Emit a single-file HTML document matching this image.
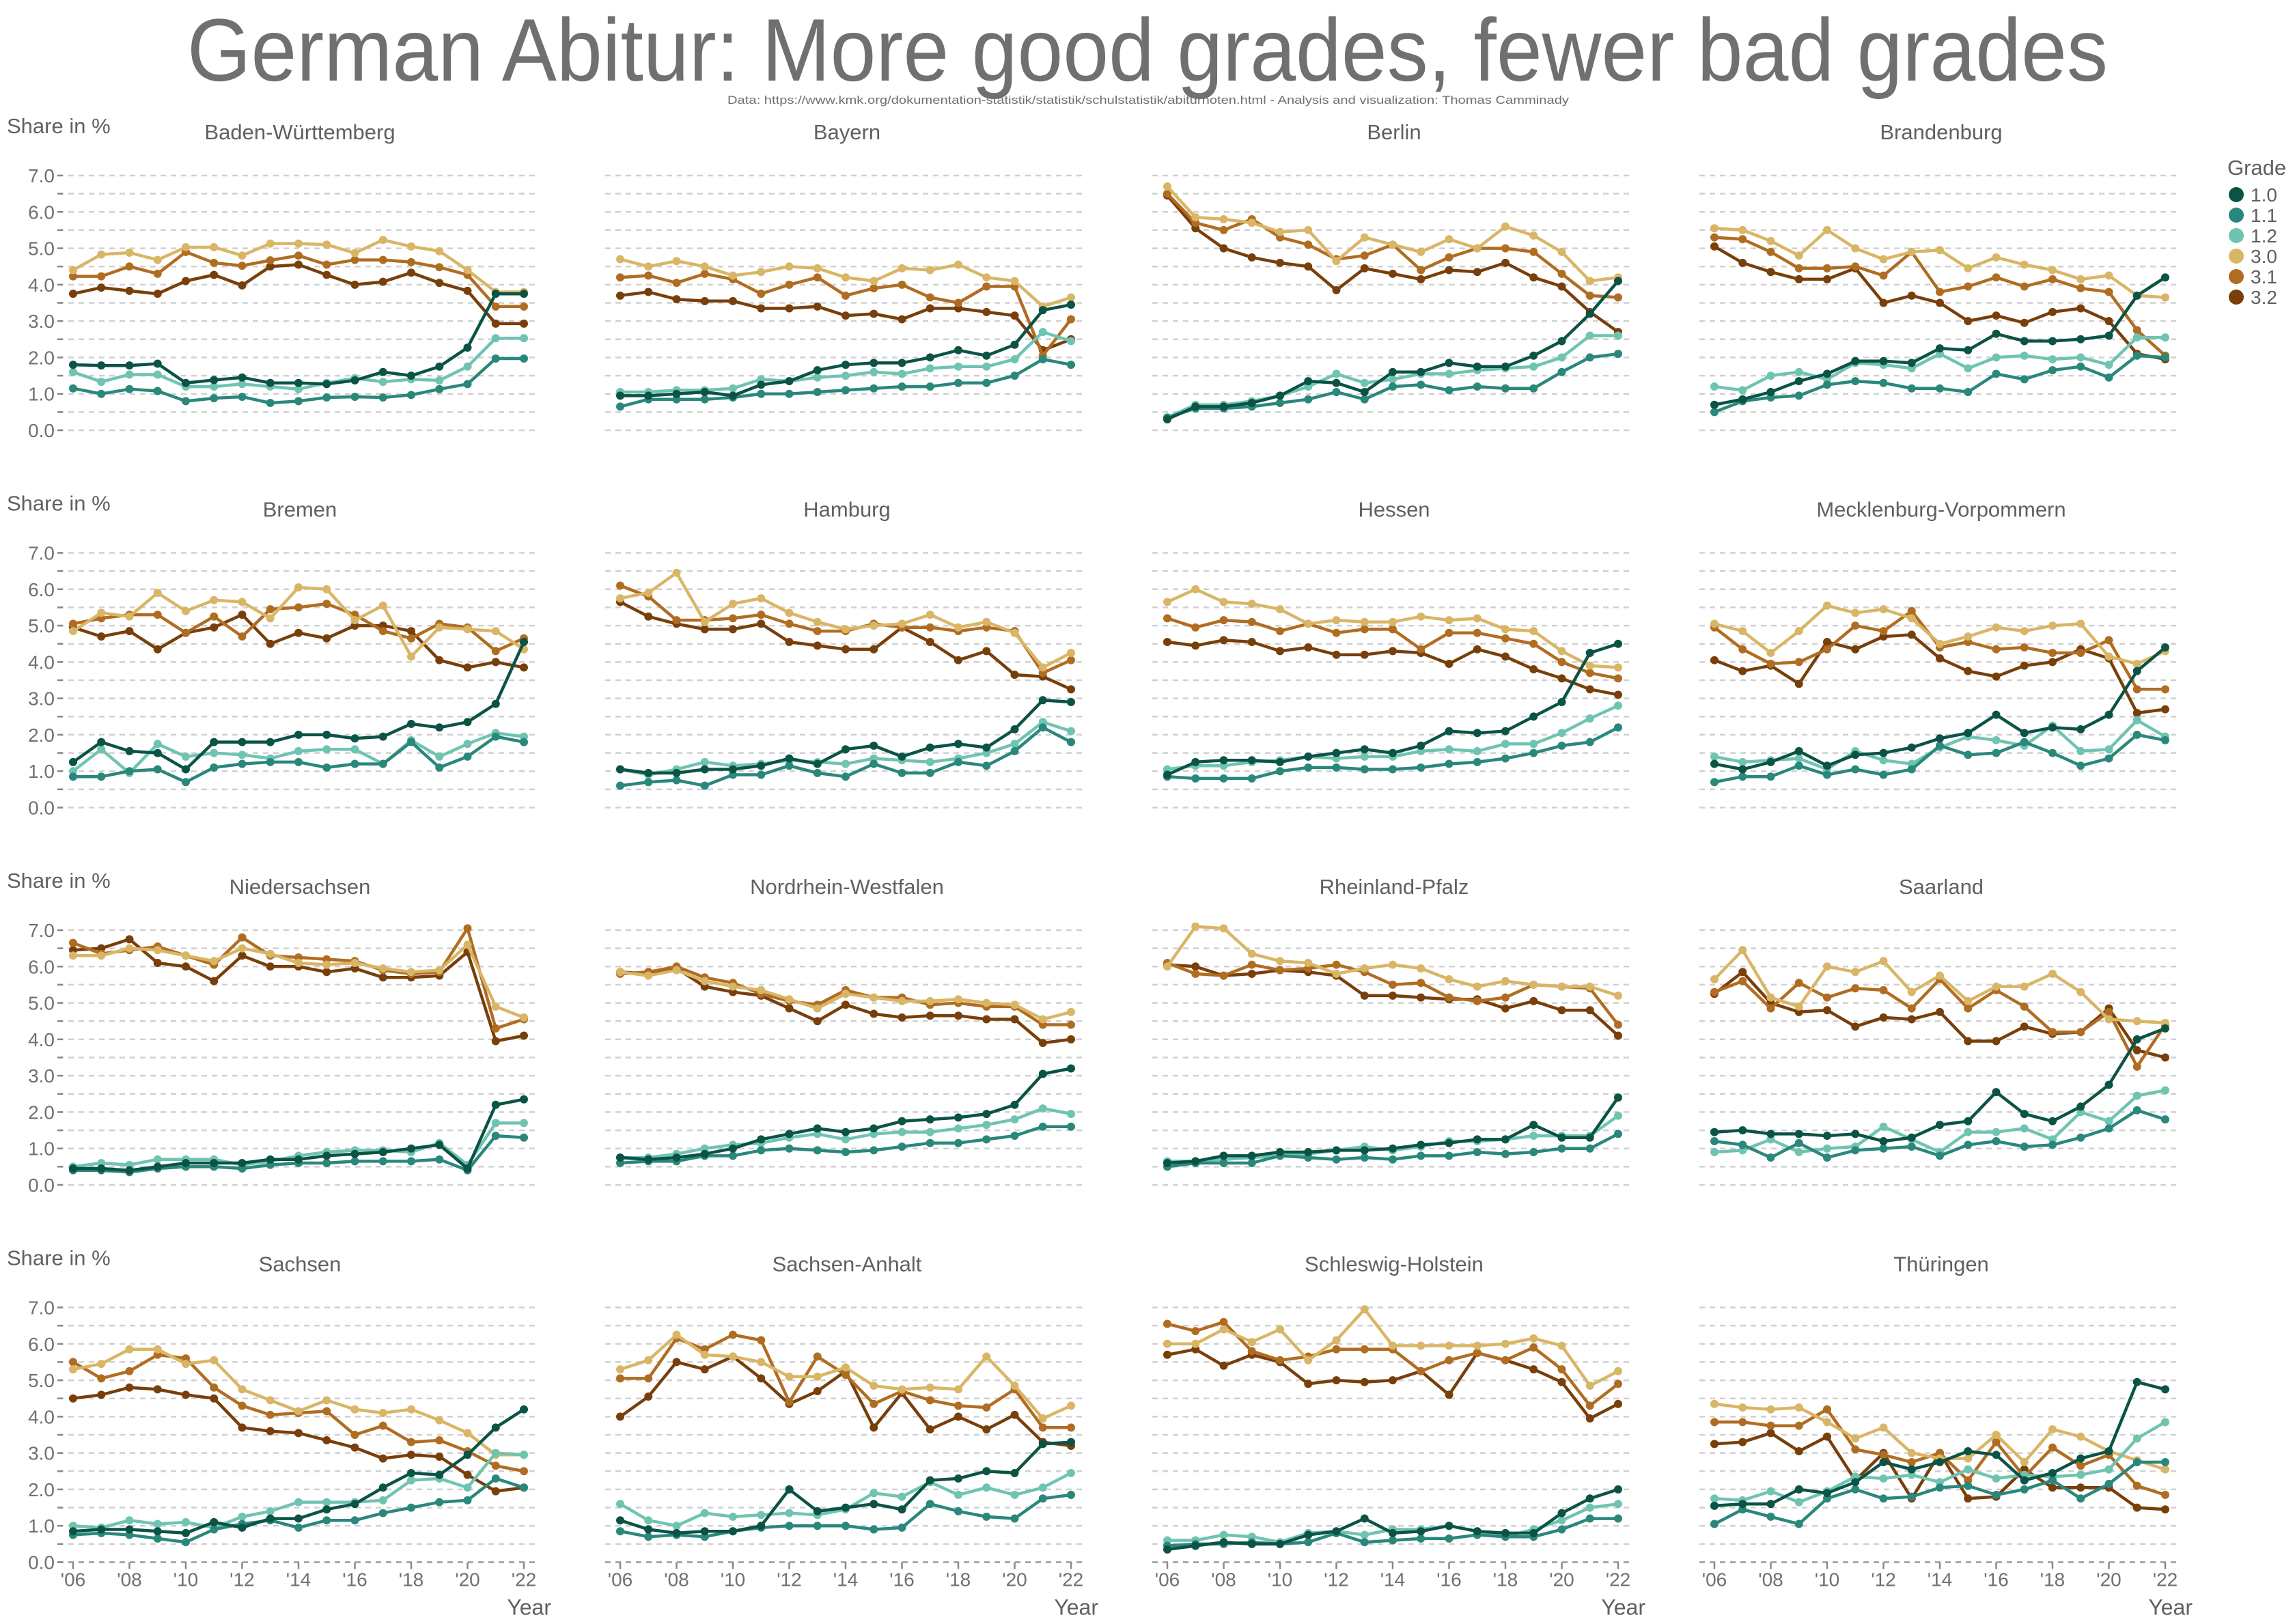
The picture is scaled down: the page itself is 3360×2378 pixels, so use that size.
<!DOCTYPE html>
<html><head><meta charset="utf-8">
<style>
html,body{margin:0;padding:0;background:#fff;}
svg{display:block;font-family:"Liberation Sans",sans-serif;}
</style></head>
<body>
<svg id="chart" width="3360" height="2378" viewBox="0 0 3360 2378" xmlns="http://www.w3.org/2000/svg">
<text x="274" y="118" font-size="130" fill="#707070" textLength="2812" lengthAdjust="spacingAndGlyphs">German Abitur: More good grades, fewer bad grades</text>
<text x="1065" y="152" font-size="17" fill="#707070" textLength="1232" lengthAdjust="spacingAndGlyphs">Data: https://www.kmk.org/dokumentation-statistik/statistik/schulstatistik/abiturnoten.html - Analysis and visualization: Thomas Camminady</text>
<g id="panels"></g>
<g id="legend"></g>
</svg>
<script>
const years = [2006,2007,2008,2009,2010,2011,2012,2013,2014,2015,2016,2017,2018,2019,2020,2021,2022];
const xTickLabels = ["'06","'08","'10","'12","'14","'16","'18","'20","'22"];
const yTicks = [0,1,2,3,4,5,6,7];
const grades = ["1.0","1.1","1.2","3.0","3.1","3.2"];
const states = ["Baden-Württemberg","Bayern","Berlin","Brandenburg","Bremen","Hamburg","Hessen","Mecklenburg-Vorpommern","Niedersachsen","Nordrhein-Westfalen","Rheinland-Pfalz","Saarland","Sachsen","Sachsen-Anhalt","Schleswig-Holstein","Thüringen"];
// values per state: [1.0, 1.1, 1.2, 3.0, 3.1, 3.2]
const bw = [[1.8,1.78,1.78,1.83,1.3,1.38,1.45,1.3,1.3,1.27,1.37,1.6,1.5,1.75,2.27,3.75,3.75],[1.15,1.0,1.13,1.08,0.8,0.88,0.92,0.75,0.8,0.9,0.92,0.9,0.97,1.13,1.27,1.97,1.97],[1.6,1.33,1.53,1.53,1.2,1.2,1.27,1.2,1.13,1.3,1.43,1.33,1.4,1.37,1.75,2.53,2.53],[4.4,4.83,4.88,4.68,5.03,5.03,4.8,5.13,5.13,5.1,4.87,5.23,5.05,4.92,4.4,3.8,3.8],[4.23,4.23,4.5,4.3,4.9,4.6,4.52,4.67,4.8,4.55,4.68,4.68,4.62,4.48,4.27,3.4,3.4],[3.75,3.92,3.83,3.75,4.1,4.27,3.98,4.5,4.55,4.27,4.0,4.08,4.33,4.05,3.83,2.93,2.93]];
const by = [[0.95,0.95,1.0,1.05,0.95,1.25,1.35,1.65,1.8,1.85,1.85,2.0,2.2,2.05,2.35,3.3,3.45],[0.65,0.85,0.85,0.85,0.9,1.0,1.0,1.05,1.1,1.15,1.2,1.2,1.3,1.3,1.5,1.95,1.8],[1.05,1.05,1.1,1.1,1.15,1.4,1.35,1.45,1.5,1.6,1.55,1.7,1.75,1.75,1.95,2.7,2.45],[4.7,4.5,4.65,4.5,4.25,4.35,4.5,4.45,4.2,4.1,4.45,4.4,4.55,4.2,4.1,3.4,3.65],[4.2,4.25,4.05,4.3,4.15,3.75,4.0,4.2,3.7,3.9,4.0,3.65,3.5,3.95,3.95,2.05,3.05],[3.7,3.8,3.6,3.55,3.55,3.35,3.35,3.4,3.15,3.2,3.05,3.35,3.35,3.25,3.15,2.2,2.5]];
const be = [[0.3,0.65,0.65,0.75,0.95,1.35,1.3,1.05,1.6,1.6,1.85,1.75,1.75,2.05,2.45,3.2,4.1],[0.35,0.6,0.6,0.65,0.75,0.85,1.05,0.85,1.2,1.25,1.1,1.2,1.15,1.15,1.6,2.0,2.1],[0.35,0.7,0.7,0.8,0.95,1.2,1.55,1.3,1.4,1.55,1.55,1.65,1.7,1.75,2.0,2.6,2.6],[6.7,5.85,5.8,5.7,5.45,5.5,4.65,5.3,5.1,4.9,5.25,5.0,5.6,5.35,4.9,4.1,4.2],[6.5,5.7,5.5,5.8,5.3,5.1,4.7,4.8,5.1,4.4,4.75,5.0,5.0,4.9,4.3,3.7,3.65],[6.45,5.55,5.0,4.75,4.6,4.5,3.85,4.45,4.3,4.15,4.4,4.35,4.6,4.2,3.95,3.25,2.7]];
const bb = [[0.7,0.85,1.05,1.35,1.55,1.9,1.9,1.85,2.25,2.2,2.65,2.45,2.45,2.5,2.6,3.7,4.2],[0.5,0.8,0.9,0.95,1.25,1.35,1.3,1.15,1.15,1.05,1.55,1.4,1.65,1.75,1.45,2.05,2.0],[1.2,1.1,1.5,1.6,1.4,1.85,1.8,1.7,2.1,1.7,2.0,2.05,1.95,2.0,1.8,2.55,2.55],[5.55,5.5,5.2,4.8,5.5,5.0,4.7,4.9,4.95,4.45,4.75,4.55,4.4,4.15,4.25,3.7,3.65],[5.3,5.25,4.9,4.45,4.45,4.5,4.25,4.9,3.8,3.95,4.2,3.95,4.15,3.9,3.8,2.75,2.05],[5.05,4.6,4.35,4.15,4.15,4.45,3.5,3.7,3.5,3.0,3.15,2.95,3.25,3.35,3.0,2.1,1.95]];
const hb = [[1.25,1.8,1.55,1.5,1.05,1.8,1.8,1.8,2.0,2.0,1.9,1.95,2.3,2.2,2.35,2.85,4.55],[0.85,0.85,1.0,1.05,0.7,1.1,1.2,1.25,1.25,1.1,1.2,1.2,1.8,1.1,1.4,1.95,1.8],[1.0,1.6,0.95,1.75,1.4,1.5,1.45,1.35,1.55,1.6,1.6,1.2,1.85,1.4,1.75,2.05,1.95],[4.85,5.35,5.25,5.9,5.4,5.7,5.65,5.2,6.05,6.0,5.15,5.55,4.15,4.95,4.9,4.85,4.35],[5.05,5.2,5.3,5.3,4.8,5.25,4.7,5.45,5.5,5.6,5.3,4.85,4.65,5.05,4.95,4.3,4.65],[4.95,4.7,4.85,4.35,4.8,4.95,5.3,4.5,4.8,4.65,5.0,5.0,4.85,4.05,3.85,4.0,3.85]];
const hh = [[1.05,0.95,0.95,1.05,1.05,1.15,1.35,1.2,1.6,1.7,1.4,1.65,1.75,1.65,2.15,2.95,2.9],[0.6,0.7,0.75,0.6,0.9,0.9,1.15,0.95,0.85,1.2,0.95,0.95,1.25,1.15,1.55,2.2,1.8],[1.05,0.9,1.05,1.25,1.15,1.2,1.3,1.25,1.2,1.35,1.3,1.25,1.35,1.5,1.75,2.35,2.1],[5.75,5.9,6.45,5.1,5.6,5.75,5.35,5.1,4.9,5.0,5.05,5.3,4.95,5.1,4.8,3.85,4.25],[6.1,5.8,5.15,5.15,5.2,5.3,5.05,4.85,4.85,5.05,4.95,4.95,4.85,4.95,4.85,3.7,4.05],[5.65,5.25,5.05,4.9,4.9,5.05,4.55,4.45,4.35,4.35,4.95,4.55,4.05,4.3,3.65,3.6,3.25]];
const he = [[0.9,1.25,1.3,1.3,1.25,1.4,1.5,1.6,1.5,1.7,2.1,2.05,2.1,2.5,2.9,4.25,4.5],[0.85,0.8,0.8,0.8,1.0,1.1,1.1,1.05,1.05,1.1,1.2,1.25,1.35,1.5,1.7,1.8,2.2],[1.05,1.15,1.15,1.25,1.3,1.4,1.35,1.4,1.4,1.55,1.6,1.55,1.75,1.75,2.05,2.45,2.8],[5.65,6.0,5.65,5.6,5.45,5.05,5.15,5.1,5.1,5.25,5.15,5.2,4.9,4.85,4.3,3.9,3.85],[5.2,4.95,5.15,5.1,4.85,5.05,4.8,4.9,4.9,4.35,4.8,4.8,4.65,4.5,4.0,3.7,3.55],[4.55,4.45,4.6,4.55,4.3,4.4,4.2,4.2,4.3,4.25,3.95,4.35,4.15,3.8,3.55,3.25,3.1]];
const mv = [[1.2,1.05,1.25,1.55,1.15,1.45,1.5,1.65,1.9,2.05,2.55,2.05,2.2,2.15,2.55,3.75,4.4],[0.7,0.85,0.85,1.15,0.9,1.05,0.9,1.05,1.7,1.45,1.5,1.8,1.5,1.15,1.35,2.0,1.85],[1.4,1.25,1.3,1.35,1.05,1.55,1.3,1.2,1.65,1.95,1.85,1.7,2.25,1.55,1.6,2.4,1.95],[5.05,4.85,4.25,4.85,5.55,5.35,5.45,5.2,4.5,4.7,4.95,4.85,5.0,5.05,4.15,3.95,4.3],[4.95,4.35,3.95,4.0,4.35,5.0,4.85,5.4,4.4,4.55,4.35,4.4,4.25,4.25,4.6,3.25,3.25],[4.05,3.75,3.9,3.4,4.55,4.35,4.7,4.75,4.1,3.75,3.6,3.9,4.0,4.35,4.1,2.6,2.7]];
const ni = [[0.45,0.45,0.4,0.5,0.6,0.6,0.6,0.7,0.7,0.8,0.85,0.9,1.0,1.1,0.45,2.2,2.35],[0.4,0.4,0.35,0.45,0.5,0.5,0.45,0.55,0.6,0.6,0.65,0.65,0.65,0.7,0.4,1.35,1.3],[0.5,0.6,0.55,0.7,0.7,0.7,0.55,0.65,0.8,0.9,0.95,0.95,0.9,1.15,0.55,1.7,1.7],[6.3,6.3,6.5,6.45,6.3,6.15,6.5,6.35,6.1,6.05,6.1,5.95,5.85,5.9,6.6,4.9,4.6],[6.65,6.35,6.45,6.55,6.3,6.05,6.8,6.3,6.25,6.2,6.15,5.9,5.8,5.85,7.05,4.3,4.55],[6.45,6.5,6.75,6.1,6.0,5.6,6.3,6.0,6.0,5.85,5.95,5.7,5.7,5.75,6.4,3.95,4.1]];
const nw = [[0.75,0.7,0.75,0.85,1.0,1.25,1.4,1.55,1.45,1.55,1.75,1.8,1.85,1.95,2.2,3.05,3.2],[0.6,0.65,0.65,0.8,0.8,0.95,1.0,0.95,0.9,0.95,1.05,1.15,1.15,1.25,1.35,1.6,1.6],[0.75,0.75,0.85,1.0,1.1,1.15,1.3,1.4,1.25,1.4,1.45,1.45,1.55,1.65,1.8,2.1,1.95],[5.85,5.75,5.9,5.6,5.45,5.35,5.1,4.85,5.25,5.15,5.05,5.05,5.1,5.0,4.95,4.55,4.75],[5.8,5.85,6.0,5.7,5.55,5.25,5.05,4.95,5.35,5.15,5.15,4.95,5.0,4.9,4.9,4.4,4.4],[5.85,5.8,5.95,5.45,5.3,5.2,4.85,4.5,4.95,4.7,4.6,4.65,4.65,4.55,4.55,3.9,4.0]];
const rp = [[0.6,0.65,0.8,0.8,0.9,0.9,0.95,0.95,1.0,1.1,1.15,1.25,1.25,1.65,1.3,1.3,2.4],[0.5,0.6,0.6,0.6,0.8,0.75,0.7,0.75,0.7,0.8,0.8,0.9,0.85,0.9,1.0,1.0,1.4],[0.65,0.65,0.7,0.75,0.8,0.85,0.95,1.05,0.95,1.05,1.2,1.2,1.25,1.35,1.35,1.35,1.9],[6.0,7.1,7.05,6.35,6.15,6.1,5.8,5.95,6.05,5.95,5.65,5.45,5.6,5.5,5.45,5.45,5.2],[6.1,5.8,5.75,6.05,5.9,5.95,6.05,5.85,5.5,5.55,5.15,5.05,5.15,5.5,5.45,5.4,4.4],[6.05,6.0,5.75,5.8,5.9,5.85,5.75,5.2,5.2,5.15,5.1,5.1,4.85,5.05,4.8,4.8,4.1]];
const sl = [[1.45,1.5,1.4,1.4,1.35,1.4,1.2,1.3,1.65,1.75,2.55,1.95,1.75,2.15,2.75,4.0,4.3],[1.2,1.1,0.75,1.15,0.75,0.95,1.0,1.05,0.8,1.1,1.2,1.05,1.1,1.3,1.55,2.05,1.8],[0.9,0.95,1.25,0.9,1.0,1.05,1.6,1.25,0.9,1.45,1.45,1.55,1.25,2.0,1.75,2.45,2.6],[5.65,6.45,5.15,4.9,6.0,5.85,6.15,5.3,5.75,5.05,5.45,5.45,5.8,5.3,4.55,4.5,4.45],[5.3,5.6,4.85,5.55,5.15,5.4,5.35,4.85,5.65,4.85,5.35,4.9,4.2,4.2,4.75,3.25,4.4],[5.25,5.85,5.0,4.75,4.8,4.35,4.6,4.55,4.75,3.95,3.95,4.35,4.15,4.2,4.85,3.7,3.5]];
const sn = [[0.85,0.9,0.9,0.85,0.8,1.1,0.95,1.2,1.2,1.45,1.6,2.05,2.45,2.4,2.95,3.7,4.2],[0.75,0.8,0.75,0.65,0.55,0.9,1.05,1.15,0.95,1.15,1.15,1.35,1.5,1.65,1.7,2.3,2.05],[1.0,0.95,1.15,1.05,1.1,0.95,1.25,1.4,1.65,1.65,1.65,1.7,2.25,2.3,2.05,3.0,2.95],[5.3,5.45,5.85,5.85,5.45,5.55,4.75,4.45,4.15,4.45,4.2,4.1,4.2,3.9,3.55,2.95,2.95],[5.5,5.05,5.25,5.7,5.6,4.8,4.3,4.05,4.1,4.15,3.5,3.75,3.3,3.35,3.05,2.65,2.5],[4.5,4.6,4.8,4.75,4.6,4.5,3.7,3.6,3.55,3.35,3.15,2.85,2.95,2.9,2.4,1.95,2.05]];
const st = [[1.15,0.9,0.8,0.85,0.85,1.0,2.0,1.4,1.5,1.6,1.45,2.25,2.3,2.5,2.45,3.25,3.3],[0.85,0.7,0.75,0.7,0.85,0.95,1.0,1.0,1.0,0.9,0.95,1.6,1.4,1.25,1.2,1.75,1.85],[1.6,1.15,1.0,1.35,1.25,1.3,1.35,1.3,1.45,1.9,1.8,2.2,1.85,2.05,1.85,2.05,2.45],[5.3,5.55,6.25,5.7,5.65,5.5,5.1,5.1,5.35,4.85,4.75,4.8,4.75,5.65,4.85,3.95,4.3],[5.05,5.05,6.15,5.85,6.25,6.1,4.4,5.65,5.15,4.35,4.7,4.45,4.3,4.25,4.75,3.7,3.7],[4.0,4.55,5.5,5.3,5.65,5.05,4.35,4.7,5.25,3.7,4.65,3.65,4.0,3.65,4.05,3.3,3.2]];
const sh = [[0.35,0.45,0.55,0.5,0.5,0.75,0.85,1.2,0.8,0.85,1.0,0.85,0.8,0.8,1.35,1.75,2.0],[0.45,0.5,0.5,0.55,0.5,0.55,0.8,0.55,0.6,0.65,0.65,0.75,0.7,0.7,0.9,1.2,1.2],[0.6,0.6,0.75,0.7,0.55,0.8,0.85,0.75,0.9,0.9,1.0,0.85,0.7,0.9,1.15,1.5,1.6],[6.0,6.0,6.4,6.05,6.4,5.55,6.1,6.95,5.95,5.95,5.95,5.95,6.0,6.15,5.95,4.85,5.25],[6.55,6.35,6.6,5.8,5.55,5.65,5.85,5.85,5.85,5.25,5.55,5.75,5.55,5.9,5.3,4.3,4.9],[5.7,5.85,5.4,5.7,5.5,4.9,5.0,4.95,5.0,5.25,4.6,5.75,5.55,5.3,4.95,3.95,4.35]];
const th = [[1.55,1.6,1.6,2.0,1.9,2.2,2.75,2.55,2.75,3.05,2.95,2.25,2.45,2.85,3.05,4.95,4.75],[1.05,1.45,1.25,1.05,1.75,2.0,1.75,1.8,2.05,2.1,1.85,2.0,2.25,1.75,2.15,2.75,2.75],[1.75,1.7,1.95,1.65,1.95,2.35,2.3,2.4,2.2,2.55,2.3,2.4,2.35,2.4,2.55,3.4,3.85],[4.35,4.25,4.2,4.25,3.85,3.4,3.7,3.0,2.85,2.85,3.5,2.75,3.65,3.45,3.05,2.8,2.55],[3.85,3.85,3.75,3.75,4.2,3.1,2.95,2.75,3.0,2.25,3.3,2.35,3.15,2.65,2.95,2.1,1.85],[3.25,3.3,3.55,3.05,3.45,2.25,3.0,1.75,3.0,1.75,1.8,2.55,2.05,2.05,2.05,1.5,1.45]];
const stateValues = [bw,by,be,bb,hb,hh,he,mv,ni,nw,rp,sl,sn,st,sh,th];

const colors = ["#0b5345","#2a877b","#6fc4b1","#d9b566","#b06d22","#783f0b"];
const NS = "http://www.w3.org/2000/svg";
function mk(tag, attrs, parent){const e=document.createElementNS(NS,tag);for(const k in attrs)e.setAttribute(k,attrs[k]);parent.appendChild(e);return e;}
function slug(s){return s.toLowerCase().normalize("NFD").replace(/[\u0300-\u036f]/g,"").replace(/[^a-z0-9]+/g,"-");}
const panelsG = document.getElementById("panels");
const COLW = 801, ROWH = 552.5, X0 = 107, XSPAN = 660, Y0 = 630, YSPAN = 373;
for (let i=0;i<states.length;i++){
  const c=i%4, r=Math.floor(i/4);
  const ox = X0 + c*COLW, oy = Y0 + r*ROWH;
  const xs = y => ox + (y-years[0])/(years[years.length-1]-years[0])*XSPAN;
  const ys = v => oy - v/7*YSPAN;
  const g = mk("g",{},panelsG);
  
  
  for (let h=0; h<=14; h++){
    const v=h/2, yy=ys(v);
    const gl = mk("line",{x1:ox-22,x2:ox+XSPAN+18,y1:yy,y2:yy,stroke:(h===0&&r===3)?"#999":"#d0d0d0","stroke-width":2.5,"stroke-dasharray":"8,7"},g);
    
    
    if (c===0){
      const tk = mk("line",{x1:ox-23,x2:ox-15,y1:yy,y2:yy,stroke:"#888","stroke-width":2.5},g);
      
      
    }
  }
  if (c===0){
    for (const t of yTicks){
      const tl = mk("text",{x:ox-27,y:ys(t)+10,"text-anchor":"end","font-size":28,fill:"#707070"},g);
      tl.textContent = t.toFixed(1);
      
      
    }
    const yt = mk("text",{x:10,y:oy-435,"font-size":31,fill:"#606060"},g);
    yt.textContent = "Share in %";
    
    
  }
  const pt = mk("text",{x:ox+332,y:oy-426,"text-anchor":"middle","font-size":31,fill:"#606060"},g);
  pt.textContent = states[i];
  
  
  if (r===3){
    xTickLabels.forEach((lab,k)=>{
      const xx = xs(years[0]+2*k);
      const tk = mk("line",{x1:xx,x2:xx,y1:oy,y2:oy+10,stroke:"#888","stroke-width":2.5},g);
      
      
      const tl = mk("text",{x:xx,y:oy+35,"text-anchor":"middle","font-size":28,fill:"#707070"},g);
      tl.textContent = lab;
      
      
    });
    const xt = mk("text",{x:ox+XSPAN+40,y:oy+77,"text-anchor":"end","font-size":32,fill:"#606060"},g);
    xt.textContent = "Year";
    
    
  }
  const vals = stateValues[i];
  for (let s=vals.length-1; s>=0; s--){
    const pts = vals[s].map((v,k)=>xs(years[k]).toFixed(1)+","+ys(v).toFixed(1)).join(" ");
    const pl = mk("polyline",{points:pts,fill:"none",stroke:colors[s],"stroke-width":4.5,"stroke-linejoin":"round"},g);
    
    
    vals[s].forEach((v,k)=>{
      const cc = mk("circle",{cx:xs(years[k]),cy:ys(v),r:6,fill:colors[s]},g);
      
      
    });
  }
}
const lg = document.getElementById("legend");
const lt = mk("text",{x:3261,y:256,"font-size":31,fill:"#606060"},lg);
lt.textContent = "Grade";


grades.forEach((gr,k)=>{
  const yy = 285 + k*30;
  const e = mk("g",{},lg);
  
  
  mk("circle",{cx:3274,cy:yy,r:11,fill:colors[k]},e);
  const t = mk("text",{x:3295,y:yy+10,"font-size":28,fill:"#606060"},e);
  t.textContent = gr;
  
  
});
</script>
</body></html>
